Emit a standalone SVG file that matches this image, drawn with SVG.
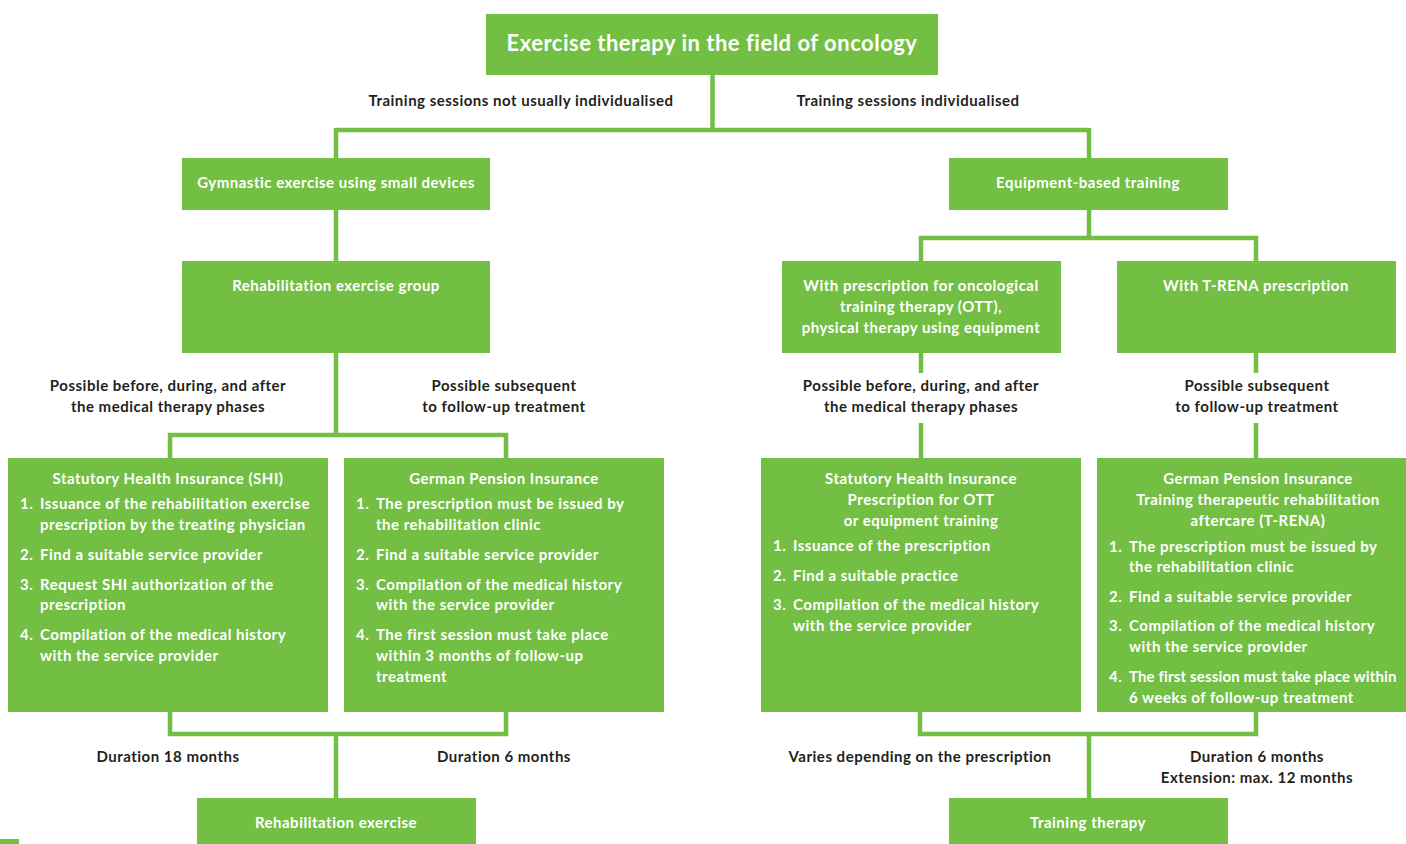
<svg xmlns="http://www.w3.org/2000/svg" width="1406" height="844" viewBox="0 0 1406 844">
<style>
.box{fill:#72bf44}
.con{fill:none;stroke:#72bf44;stroke-width:4.5;stroke-linejoin:miter}
.t{font-family:Lato,"Liberation Sans",sans-serif;font-weight:bold;font-size:15px;letter-spacing:0.5px}
.w{fill:#ffffff}
.d{fill:#231f20}
.c{text-anchor:middle}
.title{font-family:Lato,"Liberation Sans",sans-serif;font-weight:bold;font-size:22px;letter-spacing:0.5px;fill:#ffffff;text-anchor:middle}
</style>
<rect width="1406" height="844" fill="#ffffff"/>
<g id="connectors">
<path class="con" d="M712.5 75V130M336 130H1089M336 128V158M1089 128V158"/>
<path class="con" d="M336 210V261"/>
<path class="con" d="M1089 210V238M921 261V238H1256V261"/>
<path class="con" d="M336 353V435M170 458V435H506V458"/>
<path class="con" d="M921 353V373M921 423V458M1256 353V373M1256 423V458"/>
<path class="con" d="M170 712V734H506V712M336 734V798"/>
<path class="con" d="M920 712V734H1256V712M1089 734V798"/>
</g>
<g id="title"><rect class="box" x="486" y="14" width="452" height="61"/><text class="title" x="712" y="51">Exercise therapy in the field of oncology</text></g>
<g id="lbl-top" class="t d c">
<text x="521" y="106">Training sessions not usually individualised</text>
<text x="908" y="106">Training sessions individualised</text>
</g>
<g id="gymnastic"><rect class="box" x="182" y="158" width="308" height="52"/><text class="t w c" x="336" y="188">Gymnastic exercise using small devices</text></g>
<g id="equipment"><rect class="box" x="949" y="158" width="279" height="52"/><text class="t w c" x="1088" y="188">Equipment-based training</text></g>
<g id="rehab-group"><rect class="box" x="182" y="261" width="308" height="92"/><text class="t w c" x="336" y="291">Rehabilitation exercise group</text></g>
<g id="ott"><rect class="box" x="782" y="261" width="279" height="92"/>
<text class="t w c" x="921" y="291">With prescription for oncological</text>
<text class="t w c" x="921" y="312">training therapy (OTT),</text>
<text class="t w c" x="921" y="333">physical therapy using equipment</text></g>
<g id="trena"><rect class="box" x="1117" y="261" width="279" height="92"/><text class="t w c" x="1256" y="291">With T-RENA prescription</text></g>
<g id="lbl-mid" class="t d c">
<text x="168" y="391">Possible before, during, and after</text>
<text x="168" y="412">the medical therapy phases</text>
<text x="504" y="391">Possible subsequent</text>
<text x="504" y="412">to follow-up treatment</text>
<text x="921" y="391">Possible before, during, and after</text>
<text x="921" y="412">the medical therapy phases</text>
<text x="1257" y="391">Possible subsequent</text>
<text x="1257" y="412">to follow-up treatment</text>
</g>
<g id="shi" class="t w"><rect class="box" x="8" y="458" width="320" height="254"/>
<text class="c" x="168" y="484">Statutory Health Insurance (SHI)</text>
<text x="20" y="509">1.</text><text x="40" y="509">Issuance of the rehabilitation exercise</text><text x="40" y="530">prescription by the treating physician</text>
<text x="20" y="560">2.</text><text x="40" y="560">Find a suitable service provider</text>
<text x="20" y="590">3.</text><text x="40" y="590">Request SHI authorization of the</text><text x="40" y="610">prescription</text>
<text x="20" y="640">4.</text><text x="40" y="640">Compilation of the medical history</text><text x="40" y="661">with the service provider</text>
</g>
<g id="gpi" class="t w"><rect class="box" x="344" y="458" width="320" height="254"/>
<text class="c" x="504" y="484">German Pension Insurance</text>
<text x="356" y="509">1.</text><text x="376" y="509">The prescription must be issued by</text><text x="376" y="530">the rehabilitation clinic</text>
<text x="356" y="560">2.</text><text x="376" y="560">Find a suitable service provider</text>
<text x="356" y="590">3.</text><text x="376" y="590">Compilation of the medical history</text><text x="376" y="610">with the service provider</text>
<text x="356" y="640">4.</text><text x="376" y="640">The first session must take place</text><text x="376" y="661">within 3 months of follow-up</text><text x="376" y="682">treatment</text>
</g>
<g id="shi-ott" class="t w"><rect class="box" x="761" y="458" width="320" height="254"/>
<text class="c" x="921" y="484">Statutory Health Insurance</text>
<text class="c" x="921" y="505">Prescription for OTT</text>
<text class="c" x="921" y="526">or equipment training</text>
<text x="773" y="551">1.</text><text x="793" y="551">Issuance of the prescription</text>
<text x="773" y="581">2.</text><text x="793" y="581">Find a suitable practice</text>
<text x="773" y="610">3.</text><text x="793" y="610">Compilation of the medical history</text><text x="793" y="631">with the service provider</text>
</g>
<g id="gpi-trena" class="t w"><rect class="box" x="1097" y="458" width="320" height="254"/>
<text class="c" x="1258" y="484">German Pension Insurance</text>
<text class="c" x="1258" y="505">Training therapeutic rehabilitation</text>
<text class="c" x="1258" y="526">aftercare (T-RENA)</text>
<text x="1109" y="552">1.</text><text x="1129" y="552">The prescription must be issued by</text><text x="1129" y="572">the rehabilitation clinic</text>
<text x="1109" y="602">2.</text><text x="1129" y="602">Find a suitable service provider</text>
<text x="1109" y="631">3.</text><text x="1129" y="631">Compilation of the medical history</text><text x="1129" y="652">with the service provider</text>
<text x="1109" y="682">4.</text><text x="1129" y="682" style="letter-spacing:0.15px">The first session must take place within</text><text x="1129" y="703">6 weeks of follow-up treatment</text>
</g>
<g id="lbl-bottom" class="t d c">
<text x="168" y="762">Duration 18 months</text>
<text x="504" y="762">Duration 6 months</text>
<text x="920" y="762">Varies depending on the prescription</text>
<text x="1257" y="762">Duration 6 months</text>
<text x="1257" y="783">Extension: max. 12 months</text>
</g>
<g id="rehab-exercise"><rect class="box" x="197" y="798" width="279" height="52"/><text class="t w c" x="336" y="828">Rehabilitation exercise</text></g>
<g id="training-therapy"><rect class="box" x="949" y="798" width="279" height="52"/><text class="t w c" x="1088" y="828">Training therapy</text></g>
<rect class="box" x="0" y="839" width="19" height="5"/>
</svg>
